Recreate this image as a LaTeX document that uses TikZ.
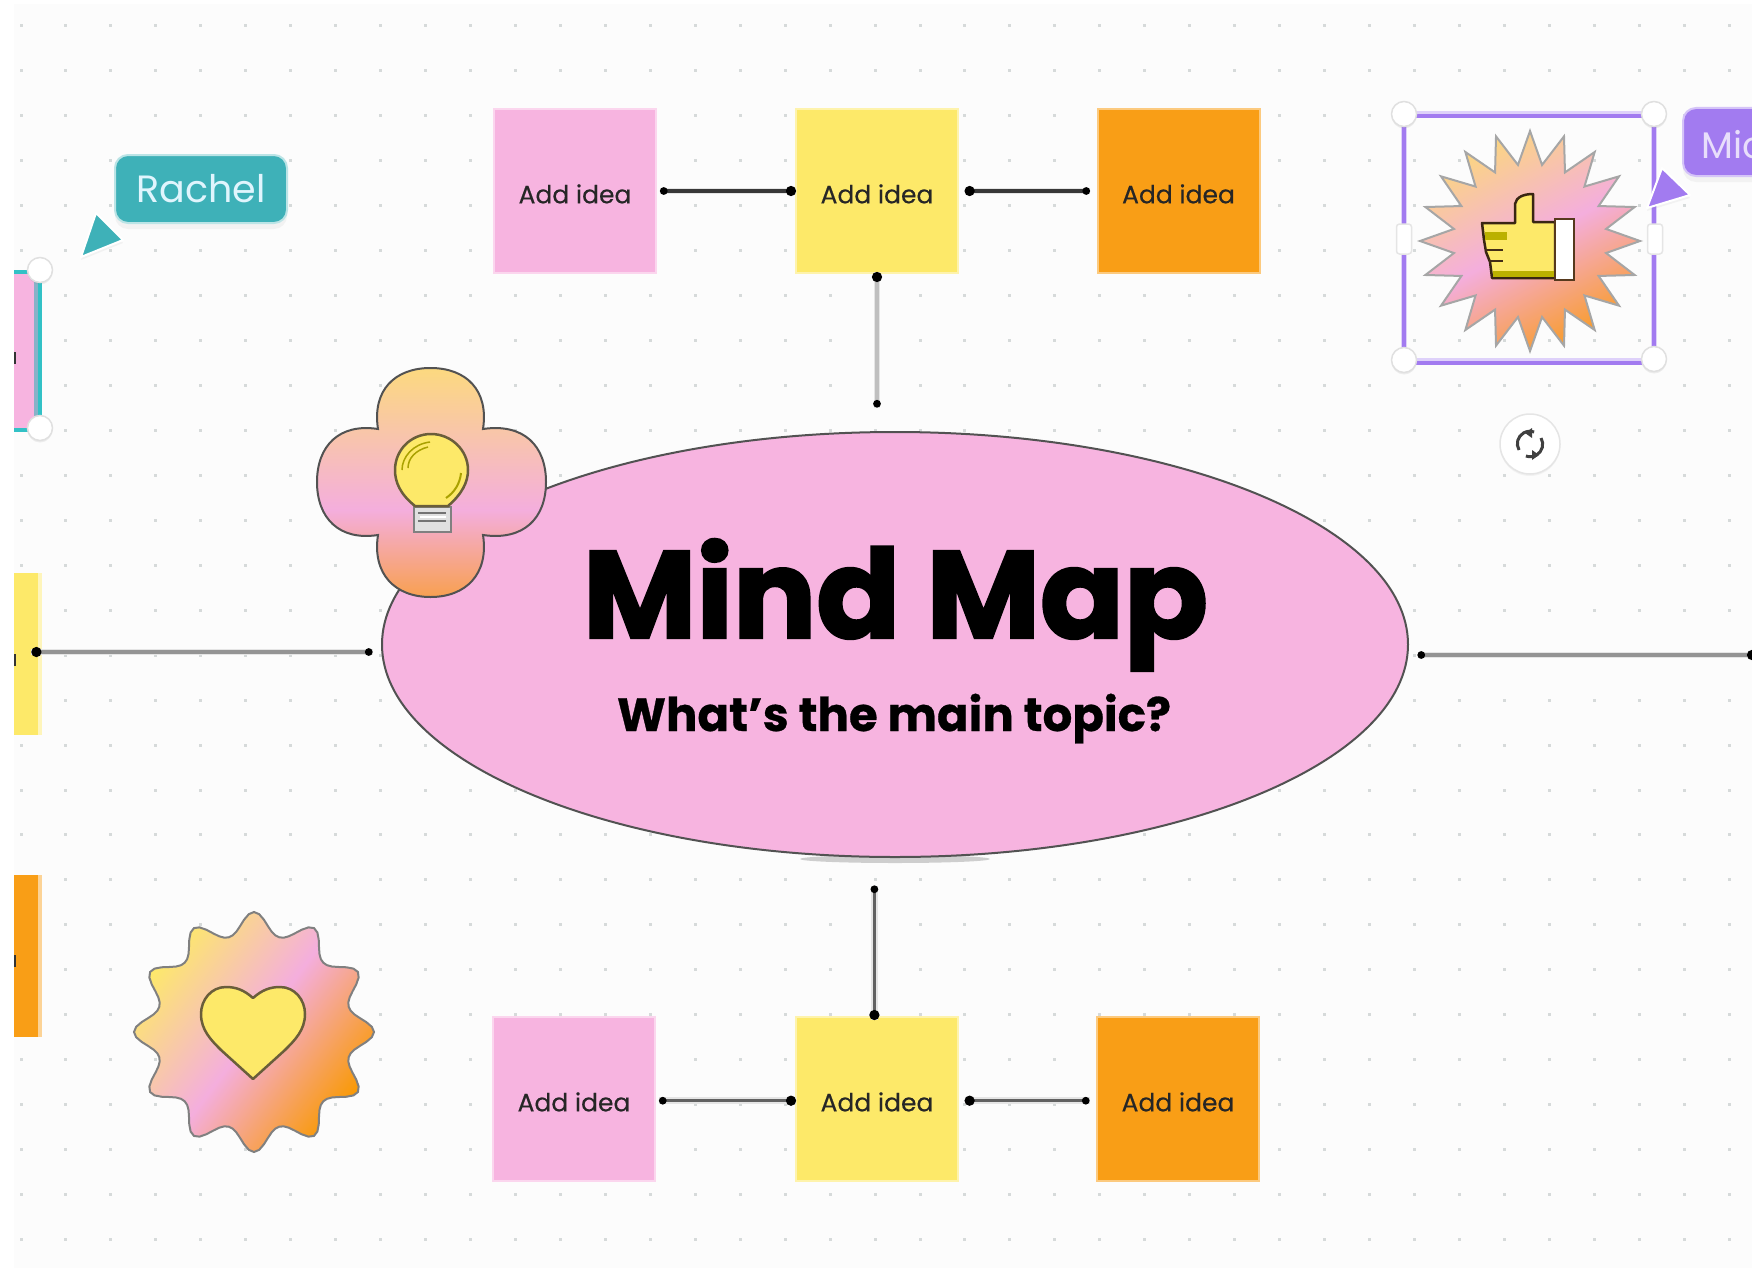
\documentclass[tikz,border=0pt]{standalone}
\usepackage{fontspec}
\setmainfont{Poppins}
\usetikzlibrary{shapes.geometric,arrows.meta,shadows,calc}
\definecolor{pagebg}{HTML}{FCFCFC}
\definecolor{griddot}{HTML}{D6DADA}
\definecolor{mpink}{HTML}{F7B4E0}
\definecolor{myellow}{HTML}{FDE969}
\definecolor{morange}{HTML}{F99E16}
\definecolor{mteal}{HTML}{3EB1B8}
\definecolor{mpurple}{HTML}{A27BF0}
\definecolor{inkline}{HTML}{6A5E3A}
\definecolor{F8A050}{HTML}{F8A050}\definecolor{F4AEDD}{HTML}{F4AEDD}\definecolor{FCD97F}{HTML}{FCD97F}
\definecolor{F99900}{HTML}{F99900}\definecolor{FBD67F}{HTML}{FBD67F}\definecolor{F89C2A}{HTML}{F89C2A}
\newcommand{\ideatext}{\raisebox{-12.3pt}[0pt][0pt]{\addfontfeature{FakeBold=0.4}Add idea}}
\tikzset{
  notebox/.style={rectangle,minimum width=162pt,minimum height=164pt,inner sep=0pt,font=\fontsize{25}{25}\selectfont,text=black!85},
  notepink/.style={notebox,fill=mpink,draw=mpink!55!white,line width=2pt},
  noteyellow/.style={notebox,fill=myellow,draw=myellow!55!white,line width=2pt},
  noteorange/.style={notebox,fill=morange,draw=morange!55!white,line width=2pt},
  stub/.style={rectangle,inner sep=0pt,minimum width=26pt,minimum height=162pt,anchor=west},
  link/.style={line width=3.5pt,preaction={draw=black!10,line width=6.5pt,arrows=-},{Circle[length=10pt,width=10pt,black]}-{Circle[length=7.5pt,width=7.5pt,black]}},
  handle/.style={circle,fill=white,draw=black!12,line width=1.5pt,minimum size=25pt,inner sep=0pt,drop shadow={shadow xshift=0pt,shadow yshift=-2pt,opacity=.12}},
  sidehandle/.style={rectangle,rounded corners=3pt,fill=white,draw=black!10,line width=1.5pt,minimum width=15pt,minimum height=30pt,inner sep=0pt},
  namelabel/.style={rectangle,rounded corners=13pt,inner sep=0pt,drop shadow={shadow xshift=0pt,shadow yshift=-6pt,opacity=.08}},
  cursorshape/.style={line width=2pt,line join=round,draw=white},
}
\pgfdeclareverticalshading{flowershade}{100bp}{color(0bp)=(F8A050); color(25bp)=(F8A050); color(44bp)=(F4AEDD); color(75bp)=(FCD97F); color(100bp)=(FCD97F)}
\begin{document}
\begin{tikzpicture}[x=1pt,y=-1pt,declare function={bc(\t)=cos(6*\t)*cos(6*\t);}]
\useasboundingbox (0,0) rectangle (1752,1271);
\clip (0,0) rectangle (1752,1271);
\fill[white] (0,0) rectangle (1752,1271);
\fill[pagebg] (14,4) rectangle (1752,1268);
% dot grid
\foreach \i in {0,...,38}{\foreach \j in {0,...,27}{
  \fill[griddot] ({21+\i*44.95-1.5},{25.85+\j*44.95-1.5}) rectangle ++(3,3);}}
% main ellipse
\fill[black,opacity=.18] (895,859) ellipse (95 and 4);
\node[ellipse,fill=mpink,draw=black!68,line width=2pt,minimum width=1026pt,minimum height=425pt,inner sep=0pt] (main) at (895,644.5) {};
\node[anchor=base,inner sep=0pt] (title) at (895.5,638) {\resizebox{625pt}{!}{\fontsize{125}{125}\selectfont\bfseries\addfontfeature{FakeBold=2}Mind Map}};
\node[anchor=base,inner sep=0pt] (subtitle) at (894,731) {\resizebox{554pt}{!}{\fontsize{44}{44}\selectfont\bfseries\addfontfeature{FakeBold=0.6}What’s the main topic?}};
% top row
\node[notepink] (tp) at (575,191) {\ideatext};
\node[noteyellow] (ty) at (877,191) {\ideatext};
\node[noteorange] (to) at (1178.5,191) {\ideatext};
% bottom row
\node[notepink] (bp) at (574,1099) {\ideatext};
\node[noteyellow] (by) at (877,1099) {\ideatext};
\node[noteorange] (bo) at (1178,1099) {\ideatext};
% left stubs
\node[stub,fill=mpink,minimum width=20pt,minimum height=160pt] (lp) at (14,352) {};
\node[stub,fill=myellow,minimum width=24pt] (ly) at (14,654) {};
\node[stub,fill=morange,minimum width=24pt] (lo) at (14,956) {};
\fill[myellow!45!white] (ly.north east) rectangle ([xshift=4pt]ly.south east);
\fill[morange!45!white] (lo.north east) rectangle ([xshift=4pt]lo.south east);
\fill[black!80] (14,352) rectangle (15.5,364);
\fill[black!80] (14,654) rectangle (15.5,666);
\fill[black!80] (14,955) rectangle (15.5,967);
% teal selection on the left
\draw[line width=3.5pt,draw=mteal!80!cyan] (14,272) -- (40,272) -- (40,430) -- (14,430);
\fill[mteal!60!mpink] (34,276) rectangle (37.5,426);
\node[handle] (lh1) at (40,270) {};
\node[handle] (lh2) at (40,428) {};
% connectors
\coordinate (rightend) at (1757,655);
\draw[link,black!78,shorten <=-1pt,shorten >=3pt] (ty.west) -- (tp.east);
\draw[link,black!78,shorten <=5.6pt,shorten >=6.5pt] (ty.east) -- (to.west);
\draw[link,black!25,shorten <=-2pt,shorten >=23.5pt] (ty.south) -- (ty.south |- main.north);
\draw[link,black!62,shorten <=-1pt,shorten >=3pt] ([yshift=-1.7pt]by.west) -- ([yshift=-1.7pt]bp.east);
\draw[link,black!62,shorten <=5.6pt,shorten >=6.5pt] ([yshift=-1.7pt]by.east) -- ([yshift=-1.7pt]bo.west);
\draw[link,black!62,shorten <=-4pt,shorten >=27.5pt] ([xshift=-2.6pt]by.north) -- ([xshift=-2.6pt]by.north |- main.south);
\draw[link,black!42,shorten <=-7pt,shorten >=8.5pt] ([yshift=2pt]ly.east) -- ([yshift=2pt]ly.east -| main.west);
\draw[link,black!42,shorten >=8.5pt] (rightend) -- (rightend -| main.east);
% flower with bulb
\path[shading=flowershade,draw=black!68,line width=2pt]
  (378,429) .. controls (372,390) and (395,368) .. (430.5,368) .. controls (466,368) and (489,390) .. (483,429)
  .. controls (524,423) and (546,446) .. (546,482) .. controls (546,518) and (524,541) .. (483,535)
  .. controls (489,574) and (466,597) .. (430.5,597) .. controls (395,597) and (372,574) .. (378,535)
  .. controls (339,541) and (317,518) .. (317,482) .. controls (317,446) and (339,423) .. (378,429) -- cycle;
\draw[fill=black!12,draw=black!50,line width=2.5pt] (414,507) rectangle (451,532);
\draw[white,line width=2pt] (420,517) -- (446,517);
\draw[black!55,line width=1.5pt] (418,513) -- (446,513) (418,521) -- (446,521);
\draw[fill=myellow,draw=inkline,line width=2.5pt]
  (415,506) .. controls (400,494) and (395,482) .. (395,470) .. controls (395,450) and (411,434) .. (431,434)
  .. controls (451,434) and (468,450) .. (468,470) .. controls (468,482) and (462,494) .. (448,506) -- cycle;
\draw[olive!75!yellow,line width=1.5pt] (402,470) .. controls (402,457) and (413,444) .. (430,442);
\draw[olive!75!yellow,line width=1.5pt] (408,468) .. controls (408,458) and (416,450) .. (428,447);
\draw[olive!75!yellow,line width=2pt] (461,473) .. controls (460,483) and (455,492) .. (446,498);
% badge with heart
\path[draw=black!50,line width=2pt,top color=myellow,bottom color=F99900,middle color=F4AEDD,shading angle=53]
  plot[samples=145,domain=0:360,variable=\t] ({254+(98+22*(0.6*bc(\t)+0.4*bc(\t)*bc(\t)))*cos(\t)},{1032+(98+22*(0.6*bc(\t)+0.4*bc(\t)*bc(\t)))*sin(\t)}) -- cycle;
\draw[fill=myellow,draw=inkline,line width=2.5pt,line join=round]
  (253,998) .. controls (262,990) and (270,987) .. (280,987) .. controls (295,987) and (305,1000) .. (305,1014)
  .. controls (305,1030) and (295,1040) .. (285,1050) -- (253,1079) -- (221,1050)
  .. controls (211,1040) and (201,1030) .. (201,1014) .. controls (201,1000) and (211,987) .. (226,987)
  .. controls (236,987) and (244,990) .. (253,998) -- cycle;
% Rachel
\path[cursorshape,fill=mteal,drop shadow={shadow xshift=0pt,shadow yshift=-3pt,opacity=.08}] (96,213) -- (123,240) -- (81,257) -- cycle;
\node[namelabel,fill=mteal,draw=mteal!35!white,line width=2pt,minimum width=172pt,minimum height=68pt,text=cyan!12!white,font=\fontsize{38}{38}\selectfont] (rachel) at (201,189) {Rachel};
% selection box with burst
\draw[mpurple!35!white,line width=6pt] (1404,114) rectangle (1654,361);
\draw[mpurple,line width=3.5pt] (1404,116) rectangle (1654,363);
\path[draw=black!35,line width=2pt,top color=FBD67F,bottom color=F89C2A,middle color=F4AEDD,shading angle=28]
  plot[samples=41,domain=-90:270,variable=\t] ({1530+(93.5+16.5*cos(20*(\t+90)))*cos(\t)},{241+(93.5+16.5*cos(20*(\t+90)))*sin(\t)}) -- cycle;
% thumb
\draw[fill=myellow,draw=black!70!brown,line width=2.5pt,line join=round]
  (1482,223) -- (1515,223) -- (1515,204) .. controls (1516,197) and (1524,194) .. (1533,194) -- (1533,222) -- (1555,222)
  -- (1555,278) -- (1492,278) -- (1490,262) -- (1486,252) -- (1484,240) -- cycle;
\fill[olive!60!yellow] (1493,271) rectangle (1554,277);
\fill[olive!60!yellow] (1485,232) rectangle (1507,240);
\draw[black!65!brown,line width=2pt] (1486,250) -- (1503,250);
\draw[black!65!brown,line width=2.5pt] (1489,261) -- (1503,261);
\draw[fill=white,draw=black!55!brown,line width=2.5pt] (1555,219) rectangle (1574,280);
\node[handle] (h1) at (1404,114) {};
\node[handle] (h2) at (1654,114) {};
\node[handle] (h3) at (1404,360) {};
\node[handle] (h4) at (1654,359) {};
\node[sidehandle] (h5) at (1404,239) {};
\node[sidehandle] (h6) at (1655,239) {};
% rotate button
\node[circle,fill=white,draw=black!10,line width=1.5pt,minimum size=60pt,inner sep=0pt,drop shadow={shadow xshift=0pt,shadow yshift=-2pt,opacity=.08}] (rot) at (1530,444) {};
\draw[black!75,line width=3pt] ($(rot)+(-11,6)$) arc[start angle=150,end angle=290,radius=12.5];
\draw[black!75,line width=3pt] ($(rot)+(11,-6)$) arc[start angle=330,end angle=470,radius=12.5];
\fill[black!75] ($(rot)+(2,-16)$) -- ++(0,10) -- ++(-7,-5) -- cycle;
\fill[black!75] ($(rot)+(2,16)$) -- ++(0,-10) -- ++(7,5) -- cycle;
% Mic label
\path[cursorshape,fill=mpurple,drop shadow={shadow xshift=0pt,shadow yshift=-3pt,opacity=.08}] (1662,168) -- (1690,195) -- (1647,208) -- cycle;
\node[namelabel,fill=mpurple,draw=mpurple!45!white,line width=2pt,minimum width=160pt,minimum height=68pt,anchor=west] (mic) at (1682,142) {};
\node[anchor=base west,inner sep=0pt,text=mpurple!25!white,font=\fontsize{37}{37}\selectfont] (mictext) at (1701,158) {Mic};
\end{tikzpicture}
\end{document}
